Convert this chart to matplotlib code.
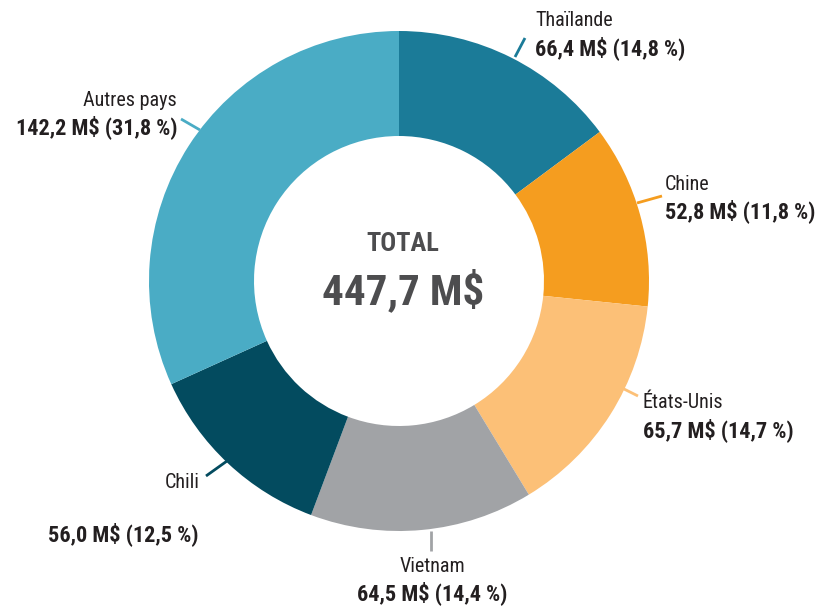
import matplotlib
matplotlib.use("Agg")
import matplotlib.pyplot as plt

categories = ["Thaïlande", "Chine", "États-Unis", "Vietnam", "Chili", "Autres pays"]
values = [66.4, 52.8, 65.7, 64.5, 56.0, 142.2]
total_label = 447.7
colors = ["#1b7b98", "#f59d1f", "#fcc077", "#a1a3a6", "#034b5f", "#4aacc5"]

FONT = ["Roboto Condensed", "Liberation Sans Narrow", "Roboto", "DejaVu Sans"]
plt.rcParams["font.family"] = FONT

W, H = 819, 607
fig = plt.figure(figsize=(W / 100, H / 100), dpi=100)
ax = fig.add_axes([0, 0, 1, 1])

cx, cy, R, ring = 399, 281, 250, 105
ax.pie(values, colors=colors, startangle=-90, counterclock=True,
       radius=R, center=(cx, cy), wedgeprops=dict(width=ring, linewidth=0),
       frame=True)
ax.set_xlim(0, W)
ax.set_ylim(H, 0)
ax.axis("off")


def fmt(v):
    return f"{v:.1f}".replace(".", ",")

# layout: (name_x, name_y, value_x, value_y, ha, leader line)
layout = {
    "Thaïlande": (535, 20, 535, 48, "left", ((515, 57), (525, 38))),
    "Chine": (665, 184, 665, 211, "left", ((637, 203), (662, 196))),
    "États-Unis": (643, 403, 643, 430, "left", ((618, 386), (638, 396))),
    "Vietnam": (432, 566, 432, 593, "center", ((431, 531), (431, 551))),
    "Chili": (200, 482, 199, 534, "right", ((227, 461), (206, 476))),
    "Autres pays": (177, 100, 177, 127, "right", ((200, 130), (181, 119))),
}

for cat, v, c in zip(categories, values, colors):
    nx, ny, vx, vy, ha, line = layout[cat]
    (x0, y0), (x1, y1) = line
    ax.plot([x0, x1], [y0, y1], color=c, lw=2, solid_capstyle="butt")
    ax.text(nx, ny, cat, ha=ha, va="center", fontsize=14.5, color="#231f20")
    ax.text(vx, vy, f"{fmt(v)} M$ ({fmt(100 * v / total_label)} %)", ha=ha,
            va="center", fontsize=16, fontweight="bold", color="#231f20")

ax.text(cx + 4, 244, "TOTAL", ha="center", va="center", fontsize=19,
        fontweight="bold", color="#4d4d4f")
ax.text(cx + 4, 291, f"{fmt(total_label)} M$", ha="center", va="center",
        fontsize=31, fontweight="bold", color="#4d4d4f")

fig.savefig("out.png", dpi=100)
